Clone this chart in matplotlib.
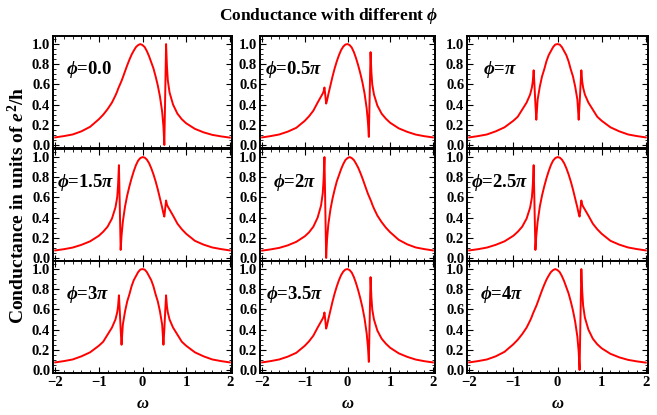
import matplotlib
matplotlib.use("Agg")
import matplotlib.pyplot as plt
import matplotlib.ticker as ticker

plt.rcParams['font.family'] = ['Liberation Serif', 'DejaVu Serif']
plt.rcParams['font.weight'] = 'bold'
plt.rcParams['mathtext.fontset'] = 'custom'
plt.rcParams['mathtext.rm'] = 'Liberation Serif:bold'
plt.rcParams['mathtext.it'] = 'Liberation Serif:italic:bold'
plt.rcParams['mathtext.bf'] = 'Liberation Serif:bold'

# omega grid (read positions), shared by all panels
omega = [-2.0, -1.8, -1.6, -1.4, -1.2, -1.0, -0.9, -0.8, -0.7, -0.62, -0.58, -0.56,
         -0.54, -0.52, -0.5, -0.48, -0.45, -0.4, -0.35, -0.3, -0.25, -0.2, -0.15,
         -0.1, -0.05, 0.0, 0.05, 0.1, 0.15, 0.2, 0.25, 0.3, 0.35, 0.4, 0.45, 0.48,
         0.5, 0.52, 0.54, 0.56, 0.58, 0.62, 0.7, 0.8, 0.9, 1.0, 1.2, 1.4, 1.6, 1.8, 2.0]

# phi = 0 (same as 4pi)
g_phi0 = [0.075, 0.088, 0.104, 0.135, 0.18, 0.255, 0.30, 0.355, 0.42, 0.49, 0.53, 0.555,
          0.575, 0.595, 0.615, 0.635, 0.67, 0.73, 0.79, 0.845, 0.895, 0.935, 0.97,
          0.99, 1.0, 0.99, 0.97, 0.93, 0.88, 0.82, 0.76, 0.68, 0.59, 0.48, 0.33, 0.18,
          0.0, 0.5, 1.0, 0.78, 0.64, 0.52, 0.40, 0.31, 0.255, 0.215, 0.16, 0.125, 0.10, 0.085, 0.073]

# phi = 0.5pi (same as 3.5pi)
g_phi05 = [0.075, 0.088, 0.104, 0.132, 0.17, 0.24, 0.285, 0.34, 0.42, 0.48, 0.51, 0.53,
           0.57, 0.49, 0.41, 0.44, 0.50, 0.59, 0.68, 0.76, 0.83, 0.89, 0.94,
           0.975, 0.995, 1.0, 0.99, 0.965, 0.92, 0.86, 0.79, 0.71, 0.62, 0.51, 0.36, 0.22,
           0.08, 0.5, 0.92, 0.72, 0.60, 0.50, 0.39, 0.31, 0.26, 0.22, 0.165, 0.13, 0.103, 0.087, 0.075]

# phi = pi (same as 3pi)
g_phi1 = [0.075, 0.088, 0.104, 0.135, 0.175, 0.24, 0.28, 0.35, 0.42, 0.50, 0.57, 0.63,
          0.74, 0.58, 0.40, 0.25, 0.45, 0.58, 0.68, 0.75, 0.83, 0.89, 0.93,
          0.97, 0.995, 1.0, 0.995, 0.97, 0.93, 0.89, 0.83, 0.75, 0.68, 0.58, 0.45, 0.25,
          0.40, 0.58, 0.74, 0.63, 0.57, 0.50, 0.42, 0.35, 0.28, 0.24, 0.175, 0.135, 0.104, 0.088, 0.075]

# phi = 1.5pi / 2.5pi and 2pi are the mirror images of 0.5pi and 0
g_phi15 = g_phi05[::-1]
g_phi2 = g_phi0[::-1]

labels = ["0.0", "0.5\\pi", "\\pi", "1.5\\pi", "2\\pi", "2.5\\pi", "3\\pi", "3.5\\pi", "4\\pi"]
curves = [g_phi0, g_phi05, g_phi1, g_phi15, g_phi2, g_phi15, g_phi1, g_phi05, g_phi0]
label_x = [0.07, 0.03, 0.09, 0.02, 0.075, 0.02, 0.07, 0.035, 0.07]

W, H = 657, 415
fig = plt.figure(figsize=(W / 100, H / 100), dpi=100)

lefts = [53, 260, 467]
widths = [179, 175, 181]
tops = [36, 149, 261]
ph = 112

for i in range(9):
    r, c = divmod(i, 3)
    ax = fig.add_axes([lefts[c] / W, 1 - (tops[r] + ph) / H, widths[c] / W, ph / H])
    ax.plot(omega, curves[i], color='red', lw=1.4, clip_on=False)
    ax.set_xlim(-2.05, 2.05)
    ax.set_ylim(-0.03, 1.08)
    ax.xaxis.set_major_locator(ticker.MultipleLocator(1))
    ax.xaxis.set_minor_locator(ticker.MultipleLocator(0.2))
    ax.yaxis.set_major_locator(ticker.MultipleLocator(0.2))
    ax.yaxis.set_minor_locator(ticker.MultipleLocator(0.05))
    ax.yaxis.set_major_formatter(ticker.FormatStrFormatter('%.1f'))
    ax.tick_params(which='both', direction='in', top=True, right=True, labelsize=10.5, pad=2)
    ax.tick_params(which='major', length=4, width=0.8)
    ax.tick_params(which='minor', length=2, width=0.6)
    for s in ax.spines.values():
        s.set_linewidth(1.4)
    if r < 2:
        ax.tick_params(labelbottom=False)
    else:
        ax.set_xlabel(r'$\omega$', fontsize=12, labelpad=5)
    ax.text(label_x[i], 0.70, r'$\phi$=$' + labels[i] + '$', transform=ax.transAxes,
            fontsize=13.5, fontweight='bold', va='center', ha='left')

fig.text(0.5, 1 - 16 / H, r'Conductance with different $\phi$', ha='center', va='center',
         fontsize=12.5, fontweight='bold')
fig.text(18 / W, 1 - 205 / H, r'Conductance in units of $e^2$/h', rotation=90,
         ha='center', va='center', fontsize=14, fontweight='bold')

fig.savefig("out.png", dpi=100)
